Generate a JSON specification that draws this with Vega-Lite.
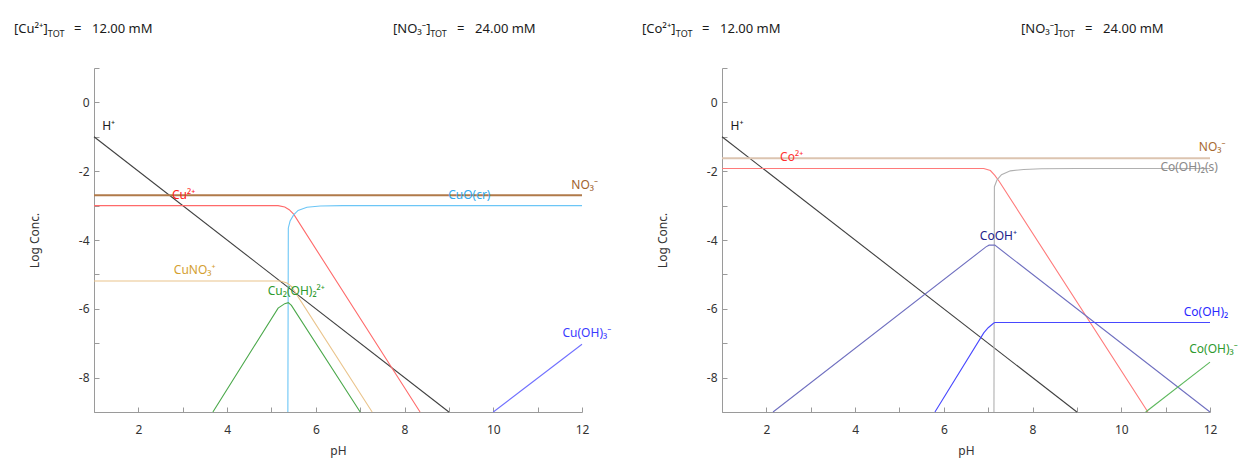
{
  "$schema": "https://vega.github.io/schema/vega-lite/v6.json",
  "padding": {"left": 14, "top": 23, "right": 0, "bottom": 4},
  "bounds": "flush",
  "spacing": 140,
  "config": {
    "font": "Noto Sans",
    "view": {"stroke": null},
    "axis": {
      "grid": false,
      "domainColor": "#9a9a9a",
      "tickColor": "#9a9a9a",
      "tickSize": -5,
      "labelColor": "#333333",
      "labelFont": "Noto Sans",
      "labelFontSize": 12,
      "titleFont": "Noto Sans",
      "titleFontSize": 12,
      "titleFontWeight": "normal",
      "titleColor": "#333333",
      "labelFlush": false,
      "labelOverlap": false
    }
  },
  "datasets": {
    "cuLines": [
      {"sp": "H⁺", "pH": 1, "v": -1}, {"sp": "H⁺", "pH": 9, "v": -9},
      {"sp": "NO₃⁻", "pH": 1, "v": -2.7}, {"sp": "NO₃⁻", "pH": 12, "v": -2.7},
      {"sp": "Cu²⁺", "pH": 1, "v": -3}, {"sp": "Cu²⁺", "pH": 5.15, "v": -3}, {"sp": "Cu²⁺", "pH": 5.3, "v": -3.04}, {"sp": "Cu²⁺", "pH": 5.4, "v": -3.12}, {"sp": "Cu²⁺", "pH": 5.5, "v": -3.25}, {"sp": "Cu²⁺", "pH": 8.35, "v": -9},
      {"sp": "CuO(cr)", "pH": 5.37, "v": -9}, {"sp": "CuO(cr)", "pH": 5.38, "v": -3.65}, {"sp": "CuO(cr)", "pH": 5.42, "v": -3.45}, {"sp": "CuO(cr)", "pH": 5.5, "v": -3.27}, {"sp": "CuO(cr)", "pH": 5.6, "v": -3.14}, {"sp": "CuO(cr)", "pH": 5.8, "v": -3.05}, {"sp": "CuO(cr)", "pH": 6.1, "v": -3.01}, {"sp": "CuO(cr)", "pH": 6.6, "v": -3}, {"sp": "CuO(cr)", "pH": 12, "v": -3},
      {"sp": "CuNO₃⁺", "pH": 1, "v": -5.19}, {"sp": "CuNO₃⁺", "pH": 5.2, "v": -5.19}, {"sp": "CuNO₃⁺", "pH": 5.35, "v": -5.25}, {"sp": "CuNO₃⁺", "pH": 5.45, "v": -5.35}, {"sp": "CuNO₃⁺", "pH": 7.27, "v": -9},
      {"sp": "Cu₂(OH)₂²⁺", "pH": 3.68, "v": -9}, {"sp": "Cu₂(OH)₂²⁺", "pH": 5.15, "v": -5.98}, {"sp": "Cu₂(OH)₂²⁺", "pH": 5.3, "v": -5.85}, {"sp": "Cu₂(OH)₂²⁺", "pH": 5.38, "v": -5.82}, {"sp": "Cu₂(OH)₂²⁺", "pH": 5.45, "v": -5.9}, {"sp": "Cu₂(OH)₂²⁺", "pH": 7.0, "v": -9},
      {"sp": "Cu(OH)₃⁻", "pH": 10, "v": -9}, {"sp": "Cu(OH)₃⁻", "pH": 12, "v": -7.03}
    ],
    "cuLabels": [
      {"sp": "H⁺", "pH": 1.33, "v": -0.7},
      {"sp": "Cu²⁺", "pH": 3.02, "v": -2.7},
      {"sp": "NO₃⁻", "pH": 12.06, "v": -2.41},
      {"sp": "CuO(cr)", "pH": 9.46, "v": -2.7},
      {"sp": "CuNO₃⁺", "pH": 3.27, "v": -4.88},
      {"sp": "Cu₂(OH)₂²⁺", "pH": 5.56, "v": -5.49},
      {"sp": "Cu(OH)₃⁻", "pH": 12.11, "v": -6.69}
    ],
    "coLines": [
      {"sp": "H⁺", "pH": 1, "v": -1}, {"sp": "H⁺", "pH": 9, "v": -9},
      {"sp": "NO₃⁻", "pH": 1, "v": -1.62}, {"sp": "NO₃⁻", "pH": 12, "v": -1.62},
      {"sp": "Co²⁺", "pH": 1, "v": -1.92}, {"sp": "Co²⁺", "pH": 6.9, "v": -1.92}, {"sp": "Co²⁺", "pH": 7.05, "v": -1.98}, {"sp": "Co²⁺", "pH": 7.15, "v": -2.12}, {"sp": "Co²⁺", "pH": 7.25, "v": -2.3}, {"sp": "Co²⁺", "pH": 10.6, "v": -9},
      {"sp": "Co(OH)₂(s)", "pH": 7.13, "v": -9}, {"sp": "Co(OH)₂(s)", "pH": 7.14, "v": -2.45}, {"sp": "Co(OH)₂(s)", "pH": 7.2, "v": -2.25}, {"sp": "Co(OH)₂(s)", "pH": 7.3, "v": -2.1}, {"sp": "Co(OH)₂(s)", "pH": 7.5, "v": -1.99}, {"sp": "Co(OH)₂(s)", "pH": 7.8, "v": -1.95}, {"sp": "Co(OH)₂(s)", "pH": 8.2, "v": -1.93}, {"sp": "Co(OH)₂(s)", "pH": 9, "v": -1.92}, {"sp": "Co(OH)₂(s)", "pH": 12, "v": -1.92},
      {"sp": "CoOH⁺", "pH": 2.15, "v": -9}, {"sp": "CoOH⁺", "pH": 6.95, "v": -4.2}, {"sp": "CoOH⁺", "pH": 7.02, "v": -4.15}, {"sp": "CoOH⁺", "pH": 7.15, "v": -4.15}, {"sp": "CoOH⁺", "pH": 12, "v": -9},
      {"sp": "Co(OH)₂", "pH": 5.8, "v": -9}, {"sp": "Co(OH)₂", "pH": 6.9, "v": -6.7}, {"sp": "Co(OH)₂", "pH": 7.0, "v": -6.55}, {"sp": "Co(OH)₂", "pH": 7.12, "v": -6.42}, {"sp": "Co(OH)₂", "pH": 7.15, "v": -6.4}, {"sp": "Co(OH)₂", "pH": 12, "v": -6.4},
      {"sp": "Co(OH)₃⁻", "pH": 10.55, "v": -9}, {"sp": "Co(OH)₃⁻", "pH": 12, "v": -7.55}
    ],
    "coLabels": [
      {"sp": "H⁺", "pH": 1.34, "v": -0.7},
      {"sp": "Co²⁺", "pH": 2.57, "v": -1.6},
      {"sp": "NO₃⁻", "pH": 12.05, "v": -1.31},
      {"sp": "Co(OH)₂(s)", "pH": 11.53, "v": -1.89},
      {"sp": "CoOH⁺", "pH": 7.23, "v": -3.87},
      {"sp": "Co(OH)₂", "pH": 11.91, "v": -6.1},
      {"sp": "Co(OH)₃⁻", "pH": 12.08, "v": -7.18}
    ],
    "cuHead": [
      {"t": "[Cu²⁺]", "pH": -0.803, "v": 2.12, "sub": false},
      {"t": "TOT", "pH": -0.04, "v": 2.0, "sub": true},
      {"t": "=", "pH": 0.55, "v": 2.12, "sub": false},
      {"t": "12.00 mM", "pH": 0.955, "v": 2.12, "sub": false},
      {"t": "[NO₃⁻]", "pH": 7.74, "v": 2.12, "sub": false},
      {"t": "TOT", "pH": 8.58, "v": 2.0, "sub": true},
      {"t": "=", "pH": 9.18, "v": 2.12, "sub": false},
      {"t": "24.00 mM", "pH": 9.59, "v": 2.12, "sub": false}
    ],
    "coHead": [
      {"t": "[Co²⁺]", "pH": -0.803, "v": 2.12, "sub": false},
      {"t": "TOT", "pH": -0.04, "v": 2.0, "sub": true},
      {"t": "=", "pH": 0.55, "v": 2.12, "sub": false},
      {"t": "12.00 mM", "pH": 0.955, "v": 2.12, "sub": false},
      {"t": "[NO₃⁻]", "pH": 7.74, "v": 2.12, "sub": false},
      {"t": "TOT", "pH": 8.58, "v": 2.0, "sub": true},
      {"t": "=", "pH": 9.18, "v": 2.12, "sub": false},
      {"t": "24.00 mM", "pH": 9.59, "v": 2.12, "sub": false}
    ]
  },
  "hconcat": [
    {
      "width": 488,
      "height": 344,
      "encoding": {
        "x": {"field": "pH", "type": "quantitative", "scale": {"domain": [1, 12], "nice": false, "zero": false},
              "axis": {"title": "pH", "values": [1,2,3,4,5,6,7,8,9,10,11,12], "labelExpr": "datum.value % 2 === 0 ? '' + datum.value : ''", "labelPadding": 17, "titlePadding": 10}},
        "y": {"field": "v", "type": "quantitative", "scale": {"domain": [-9, 1], "nice": false, "zero": false},
              "axis": {"title": "Log Conc.", "values": [-9,-8,-7,-6,-5,-4,-3,-2,-1,0,1], "labelExpr": "datum.value % 2 === 0 ? '' + datum.value : ''", "labelPadding": 10, "titlePadding": 37}}
      },
      "layer": [
        {
          "data": {"name": "cuLines"},
          "transform": [{"filter": "datum.sp !== 'NO₃⁻'"}],
          "mark": {"type": "line", "strokeWidth": 1.1},
          "encoding": {
            "color": {"field": "sp", "type": "nominal", "legend": null,
                      "scale": {"domain": ["H⁺", "NO₃⁻", "Cu²⁺", "CuO(cr)", "CuNO₃⁺", "Cu₂(OH)₂²⁺", "Cu(OH)₃⁻"],
                                "range": ["#404040", "#b07a4a", "#ff6a6a", "#6cc6f6", "#eac48c", "#4aa84a", "#7070ff"]}}
          }
        },
        {
          "data": {"name": "cuLines"},
          "transform": [{"filter": "datum.sp === 'NO₃⁻'"}],
          "mark": {"type": "line", "strokeWidth": 2, "color": "#b07a4a"},
          "encoding": {"detail": {"field": "sp", "type": "nominal"}}
        },
        {
          "data": {"name": "cuLabels"},
          "mark": {"type": "text", "fontSize": 12, "font": "Noto Sans", "align": "center", "baseline": "middle"},
          "encoding": {
            "text": {"field": "sp"},
            "color": {"field": "sp", "type": "nominal", "legend": null,
                      "scale": {"domain": ["H⁺", "NO₃⁻", "Cu²⁺", "CuO(cr)", "CuNO₃⁺", "Cu₂(OH)₂²⁺", "Cu(OH)₃⁻"],
                                "range": ["#1a1a1a", "#a0622d", "#ff2020", "#33aaee", "#d4a030", "#2e9a2e", "#3a3aff"]}}
          }
        },
        {
          "data": {"name": "cuHead"},
          "transform": [{"filter": "!datum.sub"}],
          "mark": {"type": "text", "fontSize": 13, "font": "Noto Sans", "align": "left", "baseline": "middle", "color": "#1a1a1a"},
          "encoding": {"text": {"field": "t"}}
        },
        {
          "data": {"name": "cuHead"},
          "transform": [{"filter": "datum.sub"}],
          "mark": {"type": "text", "fontSize": 9, "font": "Noto Sans", "align": "left", "baseline": "middle", "color": "#1a1a1a"},
          "encoding": {"text": {"field": "t"}}
        }
      ],
      "resolve": {"scale": {"color": "independent"}}
    },
    {
      "width": 488,
      "height": 344,
      "encoding": {
        "x": {"field": "pH", "type": "quantitative", "scale": {"domain": [1, 12], "nice": false, "zero": false},
              "axis": {"title": "pH", "values": [1,2,3,4,5,6,7,8,9,10,11,12], "labelExpr": "datum.value % 2 === 0 ? '' + datum.value : ''", "labelPadding": 17, "titlePadding": 10}},
        "y": {"field": "v", "type": "quantitative", "scale": {"domain": [-9, 1], "nice": false, "zero": false},
              "axis": {"title": "Log Conc.", "values": [-9,-8,-7,-6,-5,-4,-3,-2,-1,0,1], "labelExpr": "datum.value % 2 === 0 ? '' + datum.value : ''", "labelPadding": 10, "titlePadding": 37}}
      },
      "layer": [
        {
          "data": {"name": "coLines"},
          "transform": [{"filter": "datum.sp !== 'NO₃⁻'"}],
          "mark": {"type": "line", "strokeWidth": 1.1},
          "encoding": {
            "color": {"field": "sp", "type": "nominal", "legend": null,
                      "scale": {"domain": ["H⁺", "NO₃⁻", "Co²⁺", "Co(OH)₂(s)", "CoOH⁺", "Co(OH)₂", "Co(OH)₃⁻"],
                                "range": ["#404040", "#dcc4b0", "#ff7a7a", "#b0b0b0", "#7070c0", "#4848ff", "#5cb85c"]}}
          }
        },
        {
          "data": {"name": "coLines"},
          "transform": [{"filter": "datum.sp === 'NO₃⁻'"}],
          "mark": {"type": "line", "strokeWidth": 2, "color": "#dcc4b0"},
          "encoding": {"detail": {"field": "sp", "type": "nominal"}}
        },
        {
          "data": {"name": "coLabels"},
          "mark": {"type": "text", "fontSize": 12, "font": "Noto Sans", "align": "center", "baseline": "middle"},
          "encoding": {
            "text": {"field": "sp"},
            "color": {"field": "sp", "type": "nominal", "legend": null,
                      "scale": {"domain": ["H⁺", "NO₃⁻", "Co²⁺", "Co(OH)₂(s)", "CoOH⁺", "Co(OH)₂", "Co(OH)₃⁻"],
                                "range": ["#1a1a1a", "#a86a30", "#ff3030", "#8a8a8a", "#22228a", "#2a2aff", "#2e9a2e"]}}
          }
        },
        {
          "data": {"name": "coHead"},
          "transform": [{"filter": "!datum.sub"}],
          "mark": {"type": "text", "fontSize": 13, "font": "Noto Sans", "align": "left", "baseline": "middle", "color": "#1a1a1a"},
          "encoding": {"text": {"field": "t"}}
        },
        {
          "data": {"name": "coHead"},
          "transform": [{"filter": "datum.sub"}],
          "mark": {"type": "text", "fontSize": 9, "font": "Noto Sans", "align": "left", "baseline": "middle", "color": "#1a1a1a"},
          "encoding": {"text": {"field": "t"}}
        }
      ],
      "resolve": {"scale": {"color": "independent"}}
    }
  ]
}
